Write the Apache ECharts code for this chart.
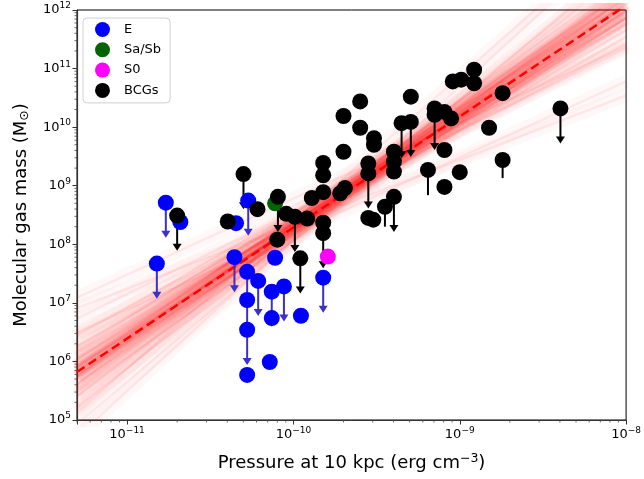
<!DOCTYPE html>
<html>
<head>
<meta charset="utf-8">
<script src="https://cdn.jsdelivr.net/npm/echarts/dist/echarts.min.js"></script>
<style>html,body{margin:0;padding:0;background:#fff;}#c{width:644px;height:479px;}</style>
</head>
<body>
<div id="c"></div>
<script>
// ---- data ----
var eX   = [1.71e-11,1.51e-11,2.09e-11,4.52e-11,4.42e-11,5.35e-11,5.27e-11,5.27e-11,5.27e-11,5.27e-11,6.14e-11,7.41e-11,7.41e-11,8.77e-11,7.76e-11,7.21e-11,1.11e-10,1.51e-10];
var eY   = [5.13e8,4.68e7,2.4e8,2.29e8,6.03e7,5.57e8,3.39e7,1.12e7,3.47e6,5.89e5,2.37e7,1.55e7,5.5e6,1.91e7,5.89e7,9.77e5,6.03e6,2.69e7];
var eLim = [1,1,0,0,1,1,1,1,1,0,1,1,0,1,0,0,0,1];

var sabX = [7.76e-11];
var sabY = [5.01e8];

var s0X = [1.61e-10];
var s0Y = [6.17e7];

var bcgX = [2.0e-11,4.03e-11,5.01e-11,6.08e-11,8.07e-11,8.0e-11,9.06e-11,1.02e-10,1.21e-10,1.10e-10,
            1.29e-10,1.51e-10,1.51e-10,1.51e-10,1.51e-10,1.51e-10,1.91e-10,2.04e-10,2.0e-10,2.52e-10,
            2.52e-10,2.0e-10,3.05e-10,3.05e-10,2.82e-10,2.82e-10,4.02e-10,4.02e-10,4.02e-10,4.02e-10,
            3.55e-10,2.82e-10,3.02e-10,4.47e-10,5.08e-10,5.08e-10,7.06e-10,7.06e-10,8.09e-10,8.87e-10,
            8.09e-10,6.44e-10,8.09e-10,1.0e-9,9.08e-10,1.02e-9,1.22e-9,1.22e-9,1.81e-9,1.50e-9,
            1.81e-9,4.03e-9];
var bcgY = [3.09e8,2.45e8,1.58e9,3.98e8,6.46e8,1.2e8,3.31e8,2.95e8,2.75e8,5.75e7,
            6.17e8,2.45e9,1.51e9,7.76e8,2.34e8,1.55e8,7.41e8,9.12e8,1.55e10,2.75e10,
            9.77e9,3.8e9,6.46e9,5.01e9,2.4e9,1.62e9,3.8e9,2.57e9,1.74e9,6.46e8,
            4.37e8,2.82e8,2.63e8,1.17e10,1.23e10,3.31e10,2.09e10,1.62e10,1.82e10,1.41e10,
            4.07e9,1.86e9,9.55e8,1.7e9,6.03e10,6.46e10,9.55e10,5.62e10,3.8e10,9.77e9,
            2.75e9,2.09e10];
var bcgLim = [1,0,1,0,1,0,0,1,0,1,
              0,0,0,0,0,1,0,0,0,0,
              0,0,0,0,0,1,0,0,0,1,
              0,0,0,1,1,0,0,1,0,0,
              0,0,0,0,0,0,0,0,0,0,
              0,1];
// lower ends of the visible error stems (null = none)
var bcgErrLo = [null,null,null,null,null,null,null,null,null,null,
                null,null,null,null,null,null,null,null,null,null,
                null,null,null,null,null,null,null,null,null,null,
                2.0e8,null,null,null,null,null,null,null,null,null,
                null,6.9e8,null,null,null,null,null,null,null,null,
                1.35e9,null];

// best fit (dashed) line endpoints
var fitX = [5e-12, 1e-8];
var fitY = [6.6e5, 1.2e12];

// Monte-Carlo fit lines: log10(M) at x = 5e-12 (left) and x = 1e-8 (right)
var bandLeft  = [5.83,6.04,5.62,6.25,5.41,5.78,5.88,5.75,5.91,5.95,5.71,5.40,6.26,6.15,5.51,5.61,6.05,6.09,5.57,5.92,
                 5.74,6.19,5.47,5.19,6.47,6.43,5.23,5.74,5.92,5.90,5.76,5.84,5.82,6.73,4.93,7.09,6.49,4.71,6.91,5.12];
var bandRight = [12.10,11.98,12.22,11.86,12.34,12.22,11.99,12.35,11.85,12.22,11.98,12.66,11.54,11.76,12.44,12.54,11.66,11.87,12.34,12.13,
                 12.07,12.13,12.07,12.78,11.42,11.77,12.43,12.28,11.92,12.34,11.87,12.11,12.09,11.35,12.85,11.38,10.78,13.29,10.54,13.37];

// ---- chart ----
var XMIN = 5e-12, XMAX = 1e-8, YMIN = 1e5, YMAX = 1e12;
var ARROW = 3.98; // arrow length factor (0.6 dex)

function pairs(xs, ys){ return xs.map(function(x,i){ return [x, ys[i]]; }); }
function limPairs(xs, ys, lim){ var r=[]; xs.forEach(function(x,i){ if(lim[i]) r.push([x, ys[i]]); }); return r; }

function arrowRender(color){
  return function(params, api){
    var x = api.value(0), y = api.value(1);
    var p0 = api.coord([x, y]);
    var p1 = api.coord([x, y / ARROW]);
    var hl = 7, hw = 4.5;
    return {type:'group', children:[
      {type:'line', shape:{x1:p0[0], y1:p0[1], x2:p1[0], y2:p1[1]-hl+1}, style:{stroke:color, lineWidth:2}},
      {type:'polygon', shape:{points:[[p1[0]-hw,p1[1]-hl],[p1[0]+hw,p1[1]-hl],[p1[0],p1[1]]]}, style:{fill:color}}
    ]};
  };
}

function isPow10(v){ var l = Math.log10(v); return Math.abs(l - Math.round(l)) < 1e-6; }
function expLabel(v){
  if (!isPow10(v)) return '';
  var e = Math.round(Math.log10(v));
  return '{b|10}{s|' + (e < 0 ? '\u2212' + (-e) : e) + '}';
}
var richLab = {
  b: {fontSize: 13, fontFamily: 'DejaVu Sans', color: '#000'},
  s: {fontSize: 9, fontFamily: 'DejaVu Sans', color: '#000', verticalAlign: 'top', padding: [0,0,8,0]}
};

var series = [];
// band lines (each drawn as a soft wide stroke plus a thin stroke)
bandLeft.forEach(function(l, i){
  var d = [[XMIN, Math.pow(10, l)], [XMAX, Math.pow(10, bandRight[i])]];
  series.push({type:'line', silent:true, symbol:'none', clip:true, z:1, data:d,
    lineStyle:{color:'#ff0000', width:14, opacity:0.028}});
  series.push({type:'line', silent:true, symbol:'none', clip:true, z:1, data:d,
    lineStyle:{color:'#ff0000', width:2.5, opacity:0.065}});
});
// fit line
series.push({
  type:'line', silent:true, symbol:'none', clip:true, z:2,
  data: pairs(fitX, fitY),
  lineStyle:{color:'#ff0000', width:2.5, type:[9,5]}
});
// minor ticks
var minorData = [];
for (var e = -12; e <= -9; e++) for (var m = 2; m <= 9; m++){ var v = m*Math.pow(10,e); if (v >= XMIN && v <= XMAX) minorData.push([v, YMIN, 0]); }
for (var e2 = 5; e2 <= 11; e2++) for (var m2 = 2; m2 <= 9; m2++){ minorData.push([XMIN, m2*Math.pow(10,e2), 1]); }
series.push({
  type:'custom', silent:true, clip:false, z:3,
  data: minorData,
  renderItem: function(params, api){
    var p = api.coord([api.value(0), api.value(1)]);
    if (api.value(2) === 0) return {type:'line', shape:{x1:p[0],y1:p[1],x2:p[0],y2:p[1]+2.5}, style:{stroke:'#444', lineWidth:0.8}};
    return {type:'line', shape:{x1:p[0],y1:p[1],x2:p[0]-2.5,y2:p[1]}, style:{stroke:'#444', lineWidth:0.8}};
  }
});
// E arrows + points
series.push({type:'custom', silent:true, z:4, data: limPairs(eX, eY, eLim), renderItem: arrowRender('#3b30c8')});
series.push({name:'E', type:'scatter', z:5, symbolSize:16, data: pairs(eX, eY), itemStyle:{color:'#0000ff', opacity:1}});
series.push({name:'Sa/Sb', type:'scatter', z:5, symbolSize:16, data: pairs(sabX, sabY), itemStyle:{color:'#006400', opacity:1}});
series.push({name:'S0', type:'scatter', z:5, symbolSize:16, data: pairs(s0X, s0Y), itemStyle:{color:'#ff00ff', opacity:1}});
// BCG stems + arrows + points
var stemData = []; bcgX.forEach(function(x,i){ if (bcgErrLo[i]) stemData.push([x, bcgY[i], bcgErrLo[i]]); });
series.push({type:'custom', silent:true, z:5, data: stemData, renderItem: function(params, api){
  var p0 = api.coord([api.value(0), api.value(1)]), p1 = api.coord([api.value(0), api.value(2)]);
  return {type:'line', shape:{x1:p0[0],y1:p0[1],x2:p1[0],y2:p1[1]}, style:{stroke:'#000', lineWidth:2}};
}});
series.push({type:'custom', silent:true, z:5, data: limPairs(bcgX, bcgY, bcgLim), renderItem: arrowRender('#000000')});
series.push({name:'BCGs', type:'scatter', z:6, symbolSize:16, data: pairs(bcgX, bcgY), itemStyle:{color:'#000000', opacity:1}});

var chart = echarts.init(document.getElementById('c'), null, {renderer:'canvas'});
chart.setOption({
  animation:false,
  backgroundColor:'#fff',
  textStyle:{fontFamily:'DejaVu Sans'},
  grid:{left:77, right:15, top:10, bottom:59, show:true, borderColor:'#000', borderWidth:1, backgroundColor:'transparent'},
  legend:{
    data:['E','Sa/Sb','S0','BCGs'], orient:'vertical', left:83, top:18,
    icon:'circle', itemWidth:15, itemHeight:15, itemGap:5.3,
    padding:[4,9,5,12], borderColor:'#d0d0d0', borderWidth:1, borderRadius:4,
    backgroundColor:'rgba(255,255,255,0.85)',
    textStyle:{fontSize:13, color:'#000', fontFamily:'DejaVu Sans', padding:[0,0,0,9]}
  },
  xAxis:{
    type:'log', logBase:10, min:XMIN, max:XMAX,
    splitLine:{show:false},
    axisLine:{show:true, lineStyle:{color:'#333', width:1.2}},
    axisTick:{show:true, length:4.5, lineStyle:{color:'#333'}},
    axisLabel:{formatter: expLabel, rich: richLab, margin:6, showMinLabel:true},
    name:'{t|Pressure at 10 kpc (erg cm}{u|\u22123}{t|)}',
    nameLocation:'middle', nameGap:32,
    nameTextStyle:{rich:{t:{fontSize:18, fontFamily:'DejaVu Sans', color:'#000'}, u:{fontSize:12.5, fontFamily:'DejaVu Sans', color:'#000', verticalAlign:'top', padding:[0,0,10,0]}}}
  },
  yAxis:{
    type:'log', logBase:10, min:YMIN, max:YMAX,
    splitLine:{show:false},
    axisLine:{show:true, lineStyle:{color:'#333', width:1.2}},
    axisTick:{show:true, length:4.5, lineStyle:{color:'#333'}},
    axisLabel:{formatter: expLabel, rich: richLab, margin:6},
    name:'{t|Molecular gas mass (M}{d|\u2299}{t|)}',
    nameLocation:'middle', nameGap:46,
    nameTextStyle:{rich:{t:{fontSize:18, fontFamily:'DejaVu Sans', color:'#000'}, d:{fontSize:12.5, fontFamily:'DejaVu Sans', color:'#000', verticalAlign:'bottom', padding:[6,0,0,0]}}}
  },
  series: series
});
</script>
</body>
</html>
